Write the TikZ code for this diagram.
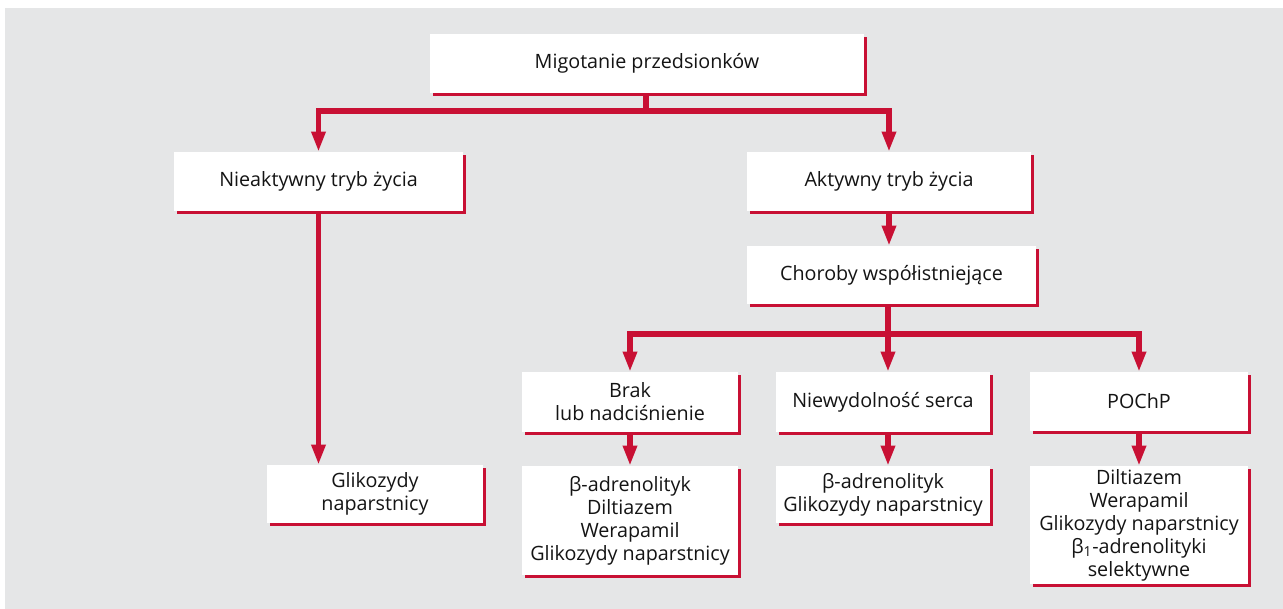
\documentclass[tikz,border=0pt]{standalone}
\usepackage{fontspec}
\setmainfont{Open Sans}
\usetikzlibrary{arrows.meta,shadows}
\definecolor{accent}{RGB}{200,16,52}
\definecolor{panel}{RGB}{229,230,231}
\definecolor{ink}{RGB}{20,20,20}

% box: name, centre x, centre y, width, height, text (all in px units)
\newcommand{\flowbox}[6]{%
  \node[box, minimum width=#4*0.75pt, minimum height=#5*0.75pt] (#1) at (#2,#3) {#6};}

\begin{document}
\begin{tikzpicture}[x=0.75pt,y=-0.75pt,
  box/.style={fill=white, inner sep=0pt, align=center, text=ink,
    font=\fontsize{14.8}{17.25}\selectfont,
    general shadow={fill=accent, shadow xshift=2.4pt, shadow yshift=-2.4pt}},
  link/.style={draw=accent, line width=4.2pt},
  arr/.style={link, -{Triangle[width=10pt,length=15pt]}}]

\useasboundingbox (0,0) rectangle (1283,609);
\fill[panel] (5,8) rectangle (1283,609);

\flowbox{top}{647}{63.5}{434}{59}{Migotanie przedsionków}
\flowbox{nie}{318.5}{181.5}{289}{59}{Nieaktywny tryb życia}
\flowbox{akt}{889}{181.5}{284}{59}{Aktywny tryb życia}
\flowbox{chor}{891.5}{275}{289}{58}{Choroby współistniejące}
\flowbox{brak}{630}{402}{216}{60}{Brak\\lub nadciśnienie}
\flowbox{niew}{883}{402}{214}{60}{Niewydolność serca}
\flowbox{poch}{1139}{401.5}{218}{59}{POChP}
\flowbox{glik}{375}{494}{216}{58}{Glikozydy\\naparstnicy}
\flowbox{bbr}{630}{520.5}{216}{109}{β-adrenolityk\\Diltiazem\\Werapamil\\Glikozydy naparstnicy}
\flowbox{bnw}{883}{494.5}{214}{57}{β-adrenolityk\\Glikozydy naparstnicy}
\flowbox{bpo}{1139}{525}{218}{118}{Diltiazem\\Werapamil\\Glikozydy naparstnicy\\β\textsubscript{1}-adrenolityki\\selektywne}

% first split
\coordinate (j1) at (646,111);
\draw[link] (top.south -| j1) -- (j1);
\draw[arr] (j1) -| (nie.north);
\draw[arr] (j1) -| (akt.north);
\draw[arr] (nie.south) -- (nie.south |- glik.north);
\draw[arr] (akt.south) -- (akt.south |- chor.north);

% second split
\coordinate (j2) at (888,334);
\draw[link] (chor.south -| j2) -- (j2);
\draw[arr] (j2) -| (brak.north);
\draw[arr] (j2) -- (j2 |- niew.north);
\draw[arr] (j2) -| (poch.north);

\draw[arr] (brak.south) -- (bbr.north);
\draw[arr] (j2 |- niew.south) -- (j2 |- bnw.north);
\draw[arr] (poch.south) -- (bpo.north);
\end{tikzpicture}
\end{document}
